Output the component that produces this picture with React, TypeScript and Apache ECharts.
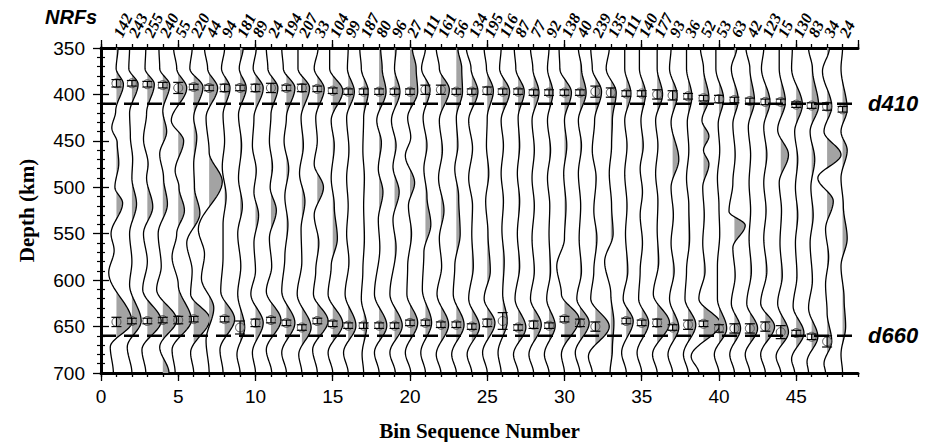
import React, { useEffect, useRef } from "react";
import * as echarts from "echarts";

// ---------------- data ----------------
const bins = [1, 2, 3, 4, 5, 6, 7, 8, 9, 10, 11, 12, 13, 14, 15, 16, 17, 18, 19, 20, 21, 22, 23, 24, 25, 26, 27, 28, 29, 30, 31, 32, 33, 34, 35, 36, 37, 38, 39, 40, 41, 42, 43, 44, 45, 46, 47, 48];
const nrfCounts = [142, 243, 255, 240, 55, 220, 44, 94, 181, 89, 24, 194, 207, 33, 104, 99, 187, 80, 96, 27, 111, 161, 56, 134, 195, 116, 87, 77, 92, 138, 40, 239, 135, 111, 140, 177, 93, 36, 52, 53, 63, 42, 123, 15, 130, 83, 34, 24];

const d410Depth = [388, 388, 389, 390, 393, 392, 393, 393, 393, 393, 393, 393, 393, 394, 396, 397, 397, 397, 397, 397, 395, 395, 397, 397, 396, 397, 397, 398, 398, 398, 398, 397, 398, 399, 399, 400, 401, 402, 404, 405, 406, 407, 408, 408, 411, 412, 413, 416];
const d410Err = [4, 3, 3, 3, 6, 3, 3, 4, 3, 4, 5, 3, 4, 3, 3, 3, 3, 3, 3, 3, 5, 5, 3, 3, 4, 3, 3, 3, 3, 3, 3, 6, 5, 3, 3, 5, 5, 3, 3, 4, 3, 3, 3, 3, 3, 3, 4, 3];

const d660Bins = [1, 2, 3, 4, 5, 6, 8, 9, 10, 11, 12, 13, 14, 15, 16, 17, 18, 19, 20, 21, 22, 23, 24, 25, 26, 27, 28, 29, 30, 31, 32, 34, 35, 36, 37, 38, 39, 40, 41, 42, 43, 44, 45, 46, 47];
const d660Depth = [645, 644, 644, 643, 643, 642, 642, 651, 646, 643, 646, 651, 644, 647, 649, 649, 649, 649, 646, 646, 648, 648, 650, 646, 644, 651, 648, 649, 642, 646, 650, 644, 646, 646, 651, 648, 647, 652, 652, 652, 650, 656, 657, 661, 666];
const d660Err = [5, 3, 3, 3, 4, 3, 3, 7, 4, 3, 3, 3, 3, 3, 3, 3, 3, 3, 3, 3, 3, 3, 3, 4, 9, 3, 4, 3, 3, 4, 5, 3, 3, 4, 3, 5, 3, 4, 5, 5, 5, 7, 3, 3, 6];

const refDepths = [410, 660];
const refLabels = ["d410", "d660"];

// wiggle turning points per bin: [depth km, amplitude in bin widths]
const trace01 = [[350, 0.1], [372, -0.02], [389, 0.45], [418, -0.05], [436, -0.3], [452, 0.05], [474, 0.15], [500, -0.1], [517, 0.4], [550, -0.35], [568, -0.15], [592, -0.5], [645, 1.0], [672, -0.4], [700, -0.2]];
const trace02 = [[350, -0.15], [372, -0.2], [389, 0.4], [420, -0.15], [445, -0.1], [470, 0.05], [490, 0.0], [518, 0.3], [550, -0.15], [580, 0.0], [605, -0.15], [644, 0.6], [672, -0.3], [700, 0.0]];
const trace03 = [[350, -0.1], [372, -0.15], [389, 0.45], [420, -0.05], [448, -0.25], [475, 0.05], [490, -0.05], [521, 0.35], [550, -0.25], [580, 0.0], [610, -0.3], [644, 0.9], [675, -0.35], [700, -0.1]];
const trace04 = [[350, -0.25], [372, -0.2], [390, 0.45], [418, 0.0], [440, 0.25], [464, -0.2], [490, 0.05], [518, 0.3], [550, -0.3], [585, -0.1], [610, -0.4], [643, 0.9], [672, -0.2], [700, 0.4]];
const trace05 = [[350, -0.3], [372, -0.1], [393, 0.55], [428, -0.45], [450, 0.35], [482, -0.2], [500, 0.05], [525, 0.4], [550, -0.1], [575, -0.4], [605, 0.0], [643, 0.85], [675, -0.4], [700, -0.2]];
const trace06 = [[350, -0.1], [372, -0.25], [392, 0.6], [425, 0.0], [446, 0.2], [475, 0.0], [500, 0.05], [528, 0.4], [560, -0.45], [590, -0.1], [615, -0.2], [642, 1.05], [678, -0.2], [700, 0.0]];
const trace07 = [[350, -0.3], [372, -0.1], [393, 0.55], [425, -0.2], [462, 0.0], [494, 0.85], [545, -0.7], [572, -0.3], [598, -0.5], [630, 0.3], [665, -0.2], [700, 0.0]];
const trace08 = [[350, 0.0], [372, -0.2], [393, 0.35], [422, -0.1], [450, 0.0], [478, -0.15], [510, 0.1], [540, -0.1], [575, -0.1], [612, -0.25], [642, 0.65], [675, -0.3], [700, -0.1]];
const trace09 = [[350, 0.2], [372, -0.05], [393, 0.4], [422, -0.1], [455, 0.1], [490, -0.1], [520, 0.15], [550, -0.15], [585, 0.05], [615, -0.15], [651, 0.3], [680, -0.2], [700, 0.0]];
const trace10 = [[350, 0.05], [372, -0.15], [393, 0.5], [425, -0.1], [455, -0.2], [482, 0.05], [505, -0.1], [530, 0.2], [560, -0.1], [590, 0.0], [615, -0.3], [646, 0.5], [678, -0.2], [700, 0.0]];
const trace11 = [[350, -0.3], [372, -0.2], [393, 0.45], [422, 0.0], [450, -0.1], [478, 0.1], [500, -0.05], [525, 0.35], [555, -0.1], [585, 0.05], [612, -0.3], [643, 0.65], [675, -0.3], [700, 0.05]];
const trace12 = [[350, -0.3], [372, -0.2], [393, 0.55], [425, 0.0], [450, -0.15], [480, 0.15], [510, -0.1], [540, 0.1], [575, -0.1], [612, -0.3], [646, 0.55], [678, -0.3], [700, 0.0]];
const trace13 = [[350, -0.25], [372, -0.25], [393, 0.5], [425, -0.05], [455, 0.1], [485, -0.15], [515, 0.2], [545, -0.05], [580, 0.0], [615, -0.3], [651, 0.6], [680, -0.2], [700, 0.0]];
const trace14 = [[350, 0.05], [372, -0.2], [394, 0.45], [425, -0.1], [450, 0.0], [475, -0.2], [500, 0.4], [530, -0.2], [560, 0.1], [590, -0.1], [615, -0.25], [644, 0.7], [675, -0.3], [700, 0.0]];
const trace15 = [[350, -0.2], [372, -0.2], [396, 0.65], [428, -0.1], [455, 0.1], [490, -0.1], [520, 0.1], [555, 0.3], [585, -0.1], [615, -0.3], [647, 0.65], [678, -0.3], [700, 0.0]];
const trace16 = [[350, 0.0], [372, -0.05], [397, 0.4], [425, -0.1], [460, 0.05], [490, -0.1], [520, 0.0], [550, -0.1], [580, 0.05], [615, -0.2], [649, 0.5], [678, -0.3], [700, 0.0]];
const trace17 = [[350, -0.25], [372, -0.15], [397, 0.3], [425, 0.0], [460, -0.05], [490, 0.05], [520, 0.0], [555, 0.05], [590, -0.05], [620, -0.15], [649, 0.2], [680, -0.1], [700, 0.0]];
const trace18 = [[350, 0.1], [372, 0.2], [397, 0.45], [428, -0.15], [452, 0.15], [480, -0.05], [505, 0.25], [535, -0.05], [565, 0.05], [615, -0.3], [649, 0.5], [678, -0.3], [700, 0.0]];
const trace19 = [[350, 0.1], [372, 0.0], [397, 0.35], [428, -0.2], [455, 0.1], [478, -0.1], [505, 0.3], [535, -0.1], [565, 0.1], [615, -0.3], [649, 0.5], [678, -0.3], [700, 0.05]];
const trace20 = [[350, 0.15], [372, 0.4], [397, 0.5], [425, -0.15], [446, 0.05], [466, -0.3], [495, 0.3], [520, -0.1], [550, 0.1], [585, -0.15], [615, -0.2], [646, 0.5], [678, -0.3], [700, 0.05]];
const trace21 = [[350, 0.0], [372, -0.25], [395, 0.3], [425, -0.15], [455, 0.1], [480, -0.1], [510, 0.1], [540, 0.35], [570, -0.1], [610, -0.2], [646, 0.4], [678, -0.3], [700, 0.0]];
const trace22 = [[350, -0.3], [372, -0.1], [395, 0.55], [428, -0.1], [460, 0.1], [490, -0.15], [525, 0.2], [555, -0.1], [585, 0.05], [615, -0.25], [648, 0.5], [680, -0.3], [700, 0.0]];
const trace23 = [[350, 0.1], [372, 0.35], [397, 0.4], [425, 0.0], [455, 0.1], [480, -0.1], [510, 0.15], [550, 0.25], [585, -0.1], [615, -0.2], [648, 0.5], [680, -0.3], [700, 0.0]];
const trace24 = [[350, -0.35], [372, -0.05], [397, 0.4], [428, -0.2], [458, 0.05], [490, -0.2], [520, 0.05], [550, 0.0], [585, 0.1], [620, -0.2], [650, 0.5], [680, -0.3], [700, 0.0]];
const trace25 = [[350, -0.2], [372, -0.05], [396, 0.4], [425, 0.0], [455, -0.05], [485, 0.1], [515, -0.1], [550, 0.05], [590, 0.2], [620, -0.2], [646, 0.5], [678, -0.3], [700, 0.0]];
const trace26 = [[350, -0.1], [372, -0.2], [397, 0.45], [428, -0.1], [455, 0.05], [485, -0.1], [515, 0.05], [545, -0.05], [580, 0.1], [615, 0.0], [644, 0.3], [678, -0.3], [700, -0.1]];
const trace27 = [[350, -0.25], [372, -0.15], [397, 0.4], [425, 0.0], [455, 0.1], [485, -0.05], [515, 0.1], [550, -0.05], [585, 0.1], [620, -0.2], [651, 0.5], [680, -0.3], [700, 0.0]];
const trace28 = [[350, -0.2], [372, -0.05], [398, 0.35], [428, -0.1], [460, 0.05], [490, -0.1], [520, 0.05], [555, -0.1], [590, 0.05], [620, -0.2], [648, 0.5], [680, -0.3], [700, 0.0]];
const trace29 = [[350, 0.0], [372, -0.1], [398, 0.25], [428, -0.1], [460, 0.1], [490, -0.1], [520, 0.05], [550, 0.0], [590, 0.1], [620, -0.15], [649, 0.4], [680, -0.3], [700, 0.0]];
const trace30 = [[350, -0.35], [372, -0.3], [398, 0.45], [428, 0.0], [455, 0.15], [485, -0.05], [520, 0.1], [555, 0.0], [585, -0.5], [615, -0.2], [642, 0.95], [680, -0.2], [700, 0.0]];
const trace31 = [[350, -0.1], [372, 0.1], [398, 0.4], [428, -0.1], [455, 0.1], [485, -0.1], [520, 0.05], [555, -0.05], [590, 0.1], [620, -0.2], [646, 0.6], [678, -0.3], [700, 0.0]];
const trace32 = [[350, -0.3], [372, -0.2], [397, 0.4], [428, -0.05], [460, -0.2], [490, 0.05], [525, -0.1], [555, 0.1], [590, -0.1], [620, -0.3], [650, 0.9], [682, -0.45], [700, -0.2]];
const trace33 = [[350, -0.1], [372, -0.3], [398, 0.35], [428, 0.1], [455, 0.05], [485, -0.1], [520, 0.05], [550, 0.15], [580, -0.4], [615, 0.0], [646, 0.2], [675, 0.1], [700, -0.05]];
const trace34 = [[350, -0.1], [372, -0.1], [399, 0.3], [428, -0.1], [455, 0.05], [485, -0.1], [520, 0.05], [550, -0.05], [590, 0.1], [620, -0.2], [644, 0.45], [678, -0.3], [700, 0.0]];
const trace35 = [[350, -0.15], [372, -0.15], [399, 0.25], [428, -0.05], [455, 0.1], [480, -0.1], [505, 0.05], [530, -0.1], [560, 0.05], [590, -0.1], [620, -0.2], [646, 0.45], [678, -0.3], [700, 0.0]];
const trace36 = [[350, 0.0], [372, 0.0], [400, 0.35], [428, -0.1], [455, 0.05], [485, -0.1], [515, 0.05], [545, 0.0], [580, 0.1], [615, -0.25], [646, 0.8], [680, -0.3], [700, 0.0]];
const trace37 = [[350, -0.1], [372, -0.2], [401, 0.3], [430, -0.1], [470, 0.4], [500, -0.1], [530, 0.05], [560, -0.1], [590, 0.1], [620, -0.2], [651, 0.4], [680, -0.3], [700, 0.0]];
const trace38 = [[350, -0.1], [372, -0.1], [402, 0.25], [430, -0.05], [460, 0.05], [490, -0.1], [520, 0.05], [555, 0.1], [590, -0.1], [620, -0.2], [648, 0.5], [680, -0.3], [700, 0.0]];
const trace39 = [[350, -0.2], [372, 0.0], [404, 0.35], [428, -0.1], [445, 0.35], [460, 0.0], [475, 0.35], [500, -0.05], [530, 0.05], [560, -0.05], [590, 0.1], [620, -0.3], [647, 1.1], [682, -0.8], [700, -0.3]];
const trace40 = [[350, -0.2], [372, -0.2], [405, 0.3], [432, -0.05], [460, 0.05], [490, -0.1], [520, 0.0], [550, 0.05], [585, -0.1], [620, -0.1], [652, 0.5], [680, -0.3], [700, 0.0]];
const trace41 = [[350, 0.15], [372, -0.2], [406, 0.25], [432, -0.1], [465, 0.05], [495, -0.1], [526, -0.35], [541, 0.7], [565, -0.1], [595, 0.05], [625, -0.2], [652, 0.4], [680, -0.3], [700, 0.0]];
const trace42 = [[350, -0.25], [372, 0.0], [407, 0.3], [435, -0.1], [465, 0.05], [495, -0.05], [525, 0.05], [555, -0.05], [590, 0.1], [625, -0.2], [652, 0.5], [680, -0.3], [700, 0.0]];
const trace43 = [[350, -0.1], [372, -0.25], [408, 0.3], [435, -0.1], [465, 0.1], [495, -0.1], [525, 0.05], [555, -0.1], [590, 0.1], [625, -0.3], [650, 0.6], [680, -0.3], [700, 0.0]];
const trace44 = [[350, -0.1], [372, -0.1], [408, 0.3], [438, -0.2], [465, 0.5], [495, -0.1], [525, 0.05], [560, -0.05], [595, 0.1], [625, -0.2], [656, 0.5], [682, -0.3], [700, 0.0]];
const trace45 = [[350, -0.25], [372, -0.3], [411, 0.4], [440, -0.1], [470, 0.1], [500, -0.05], [530, 0.1], [560, -0.05], [595, 0.05], [628, -0.2], [657, 0.5], [685, -0.3], [700, -0.1]];
const trace46 = [[350, -0.2], [372, 0.05], [412, 0.45], [440, -0.1], [470, 0.2], [500, -0.05], [530, 0.1], [560, -0.1], [600, 0.05], [630, -0.2], [661, 0.4], [688, -0.3], [700, -0.2]];
const trace47 = [[350, 0.15], [375, -0.3], [413, 0.3], [440, -0.2], [465, 0.9], [490, -0.6], [515, 0.4], [545, -0.1], [575, 0.1], [605, -0.1], [635, 0.0], [666, 0.3], [690, -0.2], [700, -0.1]];
const trace48 = [[350, 0.0], [372, -0.1], [416, 0.3], [440, -0.1], [460, 0.3], [490, -0.1], [520, 0.05], [555, 0.3], [585, -0.1], [620, 0.1], [650, 0.2], [680, -0.1], [700, 0.0]];

const traces = [trace01, trace02, trace03, trace04, trace05, trace06, trace07, trace08, trace09, trace10, trace11, trace12, trace13, trace14, trace15, trace16, trace17, trace18, trace19, trace20, trace21, trace22, trace23, trace24, trace25, trace26, trace27, trace28, trace29, trace30, trace31, trace32, trace33, trace34, trace35, trace36, trace37, trace38, trace39, trace40, trace41, trace42, trace43, trace44, trace45, trace46, trace47, trace48];

const DEPTH_MIN = 350;
const DEPTH_MAX = 700;
const BIN_MAX = 49;

// ---------------- rendering helpers ----------------
function traceGeometry(api: any, bin: number, pts: number[][]) {
  const P = pts.map(([d, a]) => api.coord([bin + a, d]));
  const base = api.coord([bin, DEPTH_MIN])[0];
  const line: number[][] = [P[0]];
  const STEPS = 16;
  for (let k = 0; k < P.length - 1; k++) {
    const [x0, y0] = P[k];
    const [x1, y1] = P[k + 1];
    for (let s = 1; s <= STEPS; s++) {
      const t = s / STEPS;
      const h = t * t * (3 - 2 * t);
      line.push([x0 + (x1 - x0) * h, y0 + (y1 - y0) * t]);
    }
  }
  const fill: number[][] = [[base, line[0][1]]];
  line.forEach(([x, y]) => fill.push([Math.max(x, base), y]));
  fill.push([base, line[line.length - 1][1]]);
  return { line, fill };
}

function pickRender(params: any, api: any) {
  const b = api.value(0);
  const d = api.value(1);
  const e = api.value(2);
  const c = api.coord([b, d]);
  const t = api.coord([b, d - e]);
  const u = api.coord([b, d + e]);
  const hw = 5;
  const ls = { stroke: "#000", lineWidth: 1.2 };
  return {
    type: "group",
    children: [
      { type: "circle", shape: { cx: c[0], cy: c[1], r: 4.5 }, style: { stroke: "#555", lineWidth: 1, fill: "none" } },
      { type: "line", shape: { x1: c[0], y1: t[1], x2: c[0], y2: u[1] }, style: ls },
      { type: "line", shape: { x1: c[0] - hw, y1: t[1], x2: c[0] + hw, y2: t[1] }, style: ls },
      { type: "line", shape: { x1: c[0] - hw, y1: u[1], x2: c[0] + hw, y2: u[1] }, style: ls },
    ],
  };
}

const labelFont = { fontFamily: "Liberation Sans", fontSize: 19, color: "#000" };
const frameLine = { show: true, lineStyle: { color: "#000", width: 3 } };

function xAxisDef(position: "top" | "bottom", interval: number, tickLen: number, labels: boolean, showLine: boolean) {
  return {
    type: "value",
    position,
    min: 0,
    max: BIN_MAX,
    interval,
    axisLine: showLine ? frameLine : { show: false },
    axisTick: { show: true, length: tickLen, lineStyle: { color: "#000", width: 1.3 } },
    splitLine: { show: false },
    axisLabel: labels ? { show: true, ...labelFont, margin: 14, showMaxLabel: false } : { show: false },
    ...(labels
      ? {
          name: "Bin Sequence Number",
          nameLocation: "middle",
          nameGap: 47,
          nameTextStyle: { fontFamily: "Liberation Serif", fontWeight: "bold", fontSize: 21, color: "#000" },
        }
      : {}),
  };
}

function yAxisDef(position: "left" | "right", labels: boolean) {
  return {
    type: "value",
    position,
    inverse: true,
    min: DEPTH_MIN,
    max: DEPTH_MAX,
    interval: 50,
    axisLine: frameLine,
    axisTick: { show: true, length: 8, lineStyle: { color: "#000", width: 1.3 } },
    minorTick: { show: true, splitNumber: 5, length: 4, lineStyle: { color: "#000", width: 1.2 } },
    splitLine: { show: false },
    minorSplitLine: { show: false },
    axisLabel: labels ? { show: true, ...labelFont, margin: 16 } : { show: false },
    ...(labels
      ? {
          name: "Depth (km)",
          nameLocation: "middle",
          nameGap: 64,
          nameTextStyle: { fontFamily: "Liberation Serif", fontWeight: "bold", fontSize: 21, color: "#000" },
        }
      : {}),
  };
}

export default function App() {
  const ref = useRef<HTMLDivElement>(null);
  useEffect(() => {
    if (!ref.current) return;
    const chart = echarts.init(ref.current, null, { renderer: "svg" });

    const refSeries = refDepths.map((d, i) => ({
      type: "line",
      name: refLabels[i],
      xAxisIndex: 0,
      yAxisIndex: 0,
      data: [
        [0, d],
        [BIN_MAX, d],
      ],
      symbol: "none",
      silent: true,
      z: 6,
      lineStyle: { color: "#000", width: 2.5, type: [15, 8] },
      endLabel: {
        show: true,
        formatter: refLabels[i],
        distance: 10,
        color: "#000",
        fontFamily: "Liberation Sans",
        fontWeight: "bold",
        fontStyle: "italic",
        fontSize: 22,
      },
    }));

    chart.setOption({
      animation: false,
      backgroundColor: "#fff",
      grid: { left: 101, right: 72, top: 48, bottom: 69, containLabel: false, outerBoundsMode: "none" },
      xAxis: [
        xAxisDef("bottom", 5, 8, true, true),
        xAxisDef("bottom", 1, 4, false, false),
        xAxisDef("top", 5, 8, false, true),
        xAxisDef("top", 1, 4, false, false),
      ],
      yAxis: [yAxisDef("left", true), yAxisDef("right", false)],
      graphic: [
        {
          type: "text",
          left: 45,
          top: 7,
          style: {
            text: "NRFs",
            fontFamily: "Liberation Sans",
            fontWeight: "bold",
            fontStyle: "italic",
            fontSize: 20,
            fill: "#000",
          },
        },
      ],
      series: [
        {
          type: "custom",
          name: "wiggles",
          coordinateSystem: "cartesian2d",
          xAxisIndex: 0,
          yAxisIndex: 0,
          clip: true,
          silent: true,
          z: 2,
          data: bins.map((b) => [b, DEPTH_MIN]),
          renderItem: (params: any, api: any) => {
            const i = params.dataIndex;
            const { line, fill } = traceGeometry(api, bins[i], traces[i]);
            return {
              type: "group",
              children: [
                { type: "polygon", shape: { points: fill }, style: { fill: "#a3a3a3", stroke: "none" } },
                { type: "polyline", shape: { points: line }, style: { stroke: "#000", lineWidth: 1.3, fill: "none" } },
              ],
            };
          },
        },
        {
          type: "custom",
          name: "d410 picks",
          coordinateSystem: "cartesian2d",
          xAxisIndex: 0,
          yAxisIndex: 0,
          silent: true,
          z: 4,
          data: bins.map((b, i) => [b, d410Depth[i], d410Err[i]]),
          renderItem: pickRender,
        },
        {
          type: "custom",
          name: "d660 picks",
          coordinateSystem: "cartesian2d",
          xAxisIndex: 0,
          yAxisIndex: 0,
          silent: true,
          z: 4,
          data: d660Bins.map((b, i) => [b, d660Depth[i], d660Err[i]]),
          renderItem: pickRender,
        },
        {
          type: "custom",
          name: "NRF counts",
          coordinateSystem: "cartesian2d",
          xAxisIndex: 0,
          yAxisIndex: 0,
          clip: false,
          silent: true,
          z: 4,
          data: bins.map((b) => [b, DEPTH_MIN]),
          renderItem: (params: any, api: any) => {
            const i = params.dataIndex;
            const p = api.coord([bins[i], DEPTH_MIN]);
            return {
              type: "text",
              x: p[0] + 1,
              y: p[1] - 12,
              rotation: (64 * Math.PI) / 180,
              style: {
                text: String(nrfCounts[i]),
                fontFamily: "Liberation Serif",
                fontWeight: "bold",
                fontStyle: "italic",
                fontSize: 16,
                fill: "#000",
                align: "left",
                verticalAlign: "middle",
              },
            };
          },
        },
        ...refSeries,
      ],
    });
    return () => chart.dispose();
  }, []);
  return <div ref={ref} style={{ position: "absolute", left: 0, top: 0, width: 930, height: 442 }} />;
}
